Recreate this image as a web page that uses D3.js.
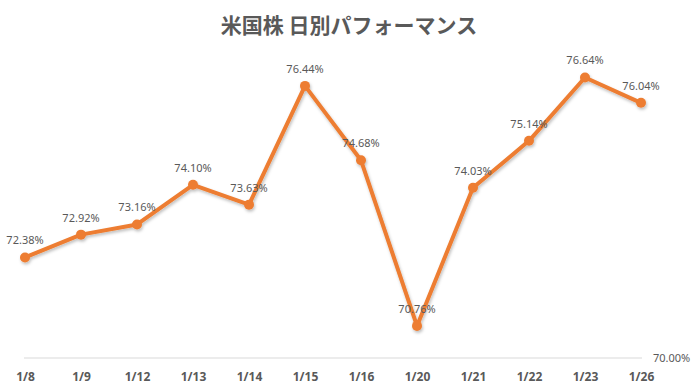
<!DOCTYPE html>
<html>
<head>
<meta charset="utf-8">
<script src="https://cdn.jsdelivr.net/npm/d3@7"></script>
<style>
  body { margin: 0; background: #fff; }
  text { font-family: "Noto Sans CJK JP", "Noto Sans", sans-serif; }
</style>
</head>
<body>
<div id="chart"></div>
<script>
// data
const dates = ["1/8", "1/9", "1/12", "1/13", "1/14", "1/15", "1/16", "1/20", "1/21", "1/22", "1/23", "1/26"];
const values = [72.38, 72.92, 73.16, 74.10, 73.63, 76.44, 74.68, 70.76, 74.03, 75.14, 76.64, 76.04];
const yMin = 70, yMax = 78;

const width = 698, height = 392;

const svg = d3.select("#chart")
    .append("svg")
    .attr("width", width)
    .attr("height", height);

// soft shadow under the line
const defs = svg.append("defs");
const f = defs.append("filter").attr("id", "shadow")
    .attr("x", "-10%").attr("y", "-10%").attr("width", "120%").attr("height", "130%");
f.append("feDropShadow").attr("dx", 1).attr("dy", 2).attr("stdDeviation", 1.5)
    .attr("flood-color", "#000").attr("flood-opacity", 0.25);

const x = d3.scalePoint()
    .domain(dates)
    .range([25, 641]);

const y = d3.scaleLinear()
    .domain([yMin, yMax])
    .range([358, 20]);

// title
svg.append("text")
    .attr("x", 349)
    .attr("y", 33)
    .attr("text-anchor", "middle")
    .style("font-size", "21px")
    .style("font-weight", "bold")
    .style("fill", "#595959")
    .text("米国株 日別パフォーマンス");

// baseline
svg.append("line")
    .attr("x1", 24).attr("x2", 642)
    .attr("y1", y(yMin)).attr("y2", y(yMin))
    .attr("stroke", "#d9d9d9").attr("stroke-width", 1);

// y axis label (only the bottom one shows)
svg.append("text")
    .attr("x", 653)
    .attr("y", y(yMin) + 4)
    .style("font-family", "'Noto Sans', sans-serif")
    .style("font-size", "11px")
    .style("fill", "#595959")
    .text(d3.format(".2f")(yMin) + "%");

// x axis
const xAxis = svg.append("g")
    .attr("transform", `translate(0, ${y(yMin)})`)
    .call(d3.axisBottom(x).tickSize(0).tickPadding(14));
xAxis.select(".domain").remove();
xAxis.selectAll("text")
    .style("font-family", "'Noto Sans', sans-serif")
    .style("font-size", "12px")
    .style("font-weight", "bold")
    .style("fill", "#595959");

const pts = dates.map((d, i) => ({ date: d, v: values[i] }));

const line = d3.line()
    .x(d => x(d.date))
    .y(d => y(d.v));

const g = svg.append("g").attr("filter", "url(#shadow)");

g.append("path")
    .datum(pts)
    .attr("d", line)
    .attr("fill", "none")
    .attr("stroke", "#ED7D31")
    .attr("stroke-width", 4)
    .attr("stroke-linejoin", "round");

g.selectAll("circle")
    .data(pts)
    .join("circle")
    .attr("cx", d => x(d.date))
    .attr("cy", d => y(d.v))
    .attr("r", 5)
    .attr("fill", "#ED7D31");

// data labels
svg.selectAll(".lbl")
    .data(pts)
    .join("text")
    .attr("class", "lbl")
    .attr("x", d => x(d.date))
    .attr("y", d => y(d.v) - 13)
    .attr("text-anchor", "middle")
    .style("font-family", "'Noto Sans', sans-serif")
    .style("font-size", "11px")
    .style("fill", "#595959")
    .text(d => d3.format(".2f")(d.v) + "%");
</script>
</body>
</html>
